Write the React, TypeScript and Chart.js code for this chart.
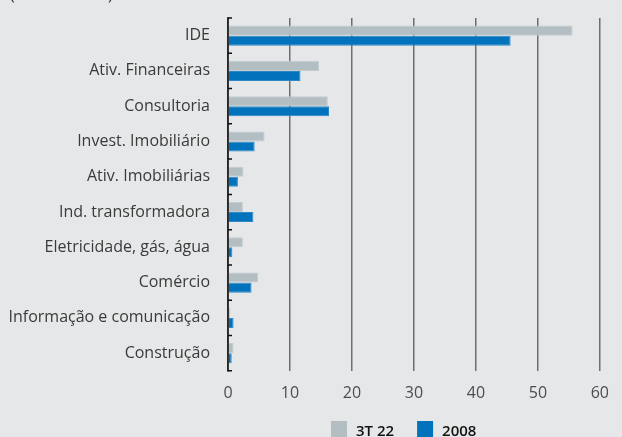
import React, { useEffect, useRef } from "react";
import { Chart, registerables } from "chart.js";

Chart.register(...registerables);

const categories = [
  "IDE",
  "Ativ. Financeiras",
  "Consultoria",
  "Invest. Imobiliário",
  "Ativ. Imobiliárias",
  "Ind. transformadora",
  "Eletricidade, gás, água",
  "Comércio",
  "Informação e comunicação",
  "Construção",
];
const series3T22 = [55.6, 14.7, 16.1, 5.9, 2.5, 2.4, 2.4, 4.9, 0.4, 0.9];
const series2008 = [45.6, 11.7, 16.3, 4.3, 1.6, 4.1, 0.7, 3.8, 0.9, 0.6];
const xTicks = [0, 10, 20, 30, 40, 50, 60];
const topNote = "(em % do PIB)";

const BG = "#e6e7e8";
const FONT = "'Open Sans', 'Noto Sans', sans-serif";

export default function App() {
  const ref = useRef<HTMLCanvasElement | null>(null);
  useEffect(() => {
    if (!ref.current) return;
    const decor = {
      id: "decor",
      beforeDraw(chart: any) {
        const { ctx } = chart;
        ctx.save();
        ctx.fillStyle = BG;
        ctx.fillRect(0, 0, chart.width, chart.height);
        ctx.fillStyle = "#333";
        ctx.font = "16px " + FONT;
        ctx.textBaseline = "alphabetic";
        ctx.fillText(topNote, 10, 0);
        ctx.restore();
      },
      afterDraw(chart: any) {
        const { ctx, chartArea } = chart;
        const y = chart.scales.y;
        const n = categories.length;
        const step = (chartArea.bottom - chartArea.top) / n;
        ctx.save();
        ctx.strokeStyle = "#111";
        ctx.lineWidth = 1.5;
        ctx.beginPath();
        ctx.moveTo(chartArea.left, chartArea.top - 1);
        ctx.lineTo(chartArea.left, chartArea.bottom + 1);
        for (let i = 0; i <= n; i++) {
          const yy = y.getPixelForValue(i) - step / 2;
          ctx.moveTo(chartArea.left, yy);
          ctx.lineTo(chartArea.left + 4, yy);
        }
        ctx.stroke();

        // legend
        ctx.font = "600 15px " + FONT;
        ctx.textBaseline = "alphabetic";
        let lx = 331;
        const ly = 421;
        chart.data.datasets.forEach((d: any) => {
          ctx.fillStyle = d.backgroundColor;
          ctx.fillRect(lx, ly, 16, 16);
          ctx.fillStyle = "#111";
          ctx.fillText(d.label, lx + 25, ly + 14.5);
          lx += 25 + ctx.measureText(d.label).width + 23;
        });
        ctx.restore();
      },
    };
    const chart = new Chart(ref.current, {
      type: "bar",
      data: {
        labels: categories,
        datasets: [
          {
            label: "3T 22",
            data: series3T22,
            backgroundColor: "#b3bec3",
            borderColor: "#c3cccf",
            borderWidth: 1,
            categoryPercentage: 0.57,
            barPercentage: 1.0,
          },
          {
            label: "2008",
            data: series2008,
            backgroundColor: "#0073bc",
            borderColor: "#2d88c8",
            borderWidth: 1,
            categoryPercentage: 0.57,
            barPercentage: 1.0,
          },
        ],
      },
      options: {
        indexAxis: "y",
        responsive: false,
        animation: false,
        devicePixelRatio: 1,
        layout: { padding: { top: 18, right: 10, left: 0, bottom: 21 } },
        scales: {
          x: {
            min: 0,
            max: 60,
            afterBuildTicks: (s: any) => {
              s.ticks = xTicks.map((v) => ({ value: v }));
            },
            border: { display: false },
            grid: { color: "#6d6e71", lineWidth: 1.5, drawTicks: false },
            ticks: {
              padding: 13,
              color: "#4d4d4d",
              font: { family: FONT, size: 16 },
            },
          },
          y: {
            border: { display: false },
            grid: { display: false, drawTicks: false },
            afterFit: (s: any) => {
              s.width = 228;
              s.paddingTop = 0;
              s.paddingBottom = 0;
            },
            ticks: {
              padding: 18,
              color: "#3a3a3a",
              font: { family: FONT, size: 16 },
            },
          },
        },
        plugins: {
          tooltip: { enabled: false },
          legend: { display: false },
        },
      },
      plugins: [decor],
    });
    return () => chart.destroy();
  }, []);
  return (
    <div
      style={{
        position: "fixed",
        left: 0,
        top: 0,
        width: 622,
        height: 437,
        overflow: "hidden",
        background: BG,
      }}
    >
      <canvas ref={ref} width={622} height={437} style={{ display: "block" }} />
    </div>
  );
}
